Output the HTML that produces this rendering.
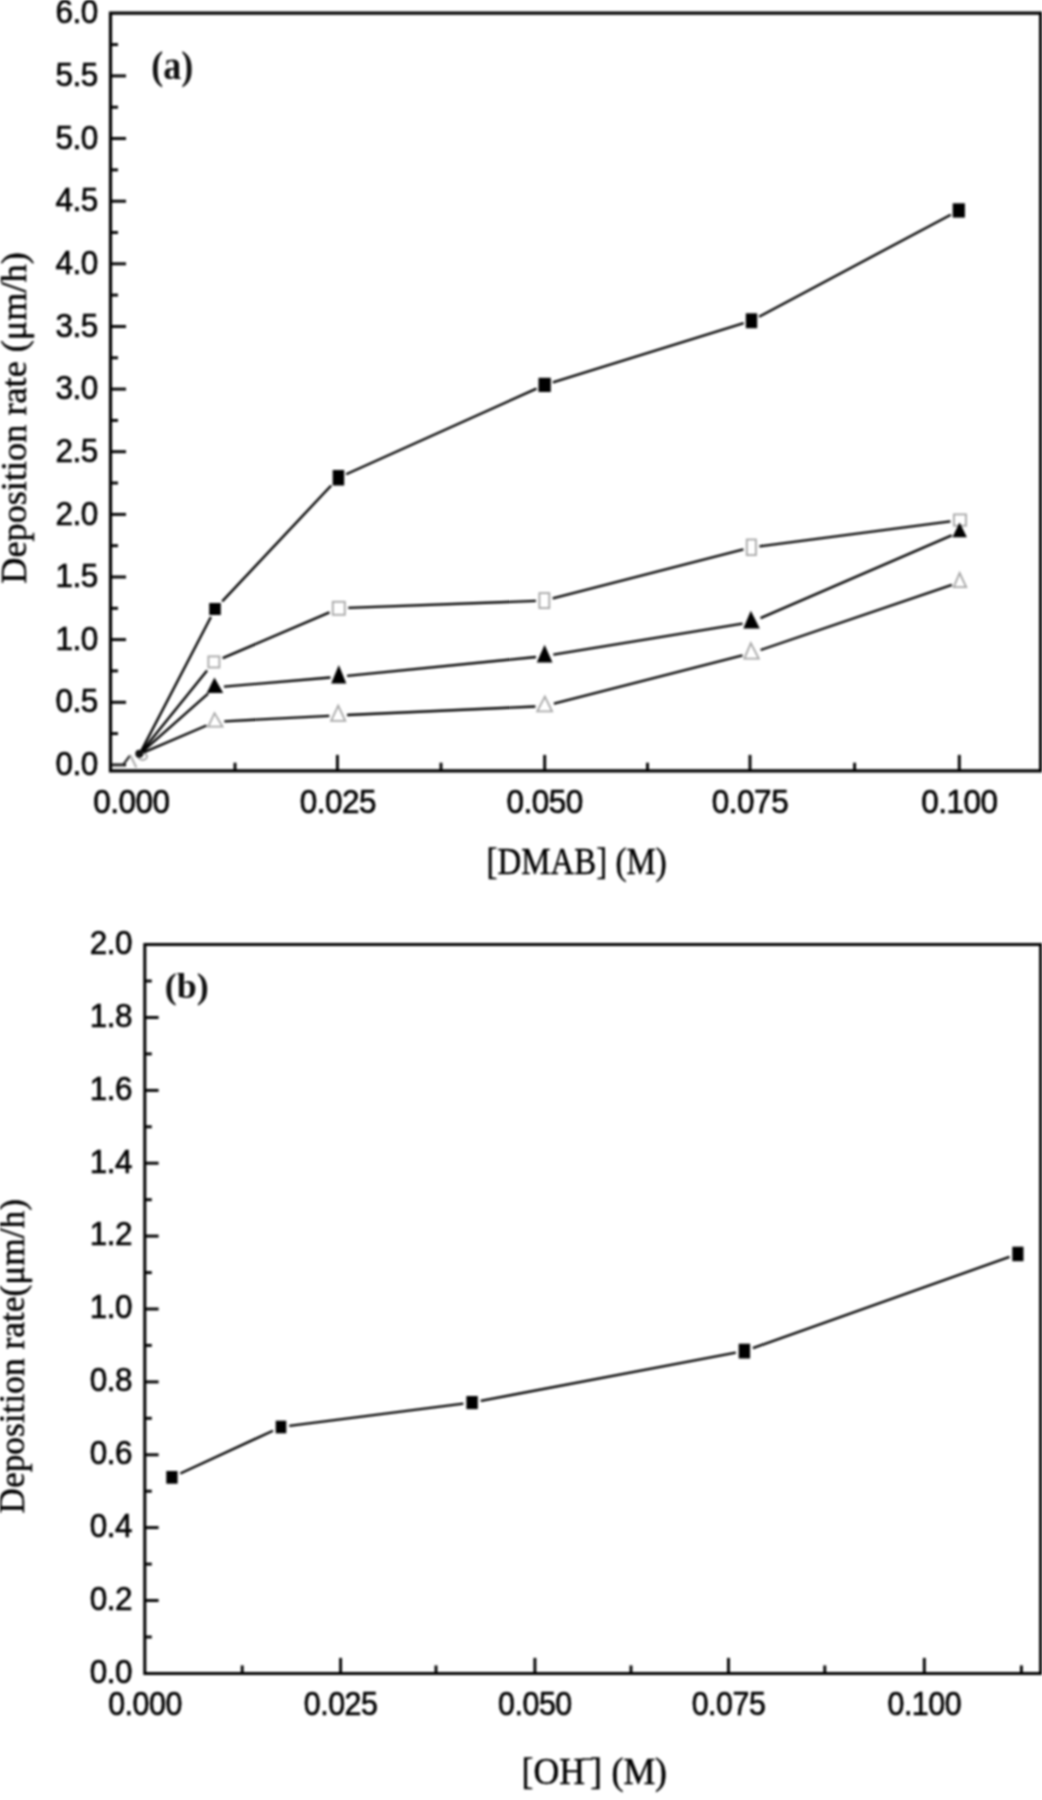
<!DOCTYPE html>
<html><head><meta charset="utf-8"><title>Deposition rate charts</title>
<style>
html,body{margin:0;padding:0;background:#fff;}
body{width:1042px;height:1800px;overflow:hidden;}
svg{display:block;filter:blur(0.85px);}
.tk{font-family:"Liberation Sans",sans-serif;font-size:31.5px;letter-spacing:-0.5px;fill:#000;stroke:#000;stroke-width:0.6px;}
.ttl{font-family:"Liberation Serif",serif;font-size:35px;fill:#000;stroke:#000;stroke-width:0.45px;}
.lbl{font-family:"Liberation Serif",serif;font-size:36px;font-weight:bold;fill:#111;}
</style></head>
<body>
<svg width="1042" height="1800" viewBox="0 0 1042 1800">
<rect width="1042" height="1800" fill="#fff"/>
<line x1="110.5" y1="764.9" x2="126.0" y2="764.9" stroke="#000" stroke-width="2.9"/>
<line x1="110.5" y1="733.6" x2="118.0" y2="733.6" stroke="#000" stroke-width="2.9"/>
<line x1="110.5" y1="702.3" x2="126.0" y2="702.3" stroke="#000" stroke-width="2.9"/>
<line x1="110.5" y1="670.9" x2="118.0" y2="670.9" stroke="#000" stroke-width="2.9"/>
<line x1="110.5" y1="639.6" x2="126.0" y2="639.6" stroke="#000" stroke-width="2.9"/>
<line x1="110.5" y1="608.3" x2="118.0" y2="608.3" stroke="#000" stroke-width="2.9"/>
<line x1="110.5" y1="577.0" x2="126.0" y2="577.0" stroke="#000" stroke-width="2.9"/>
<line x1="110.5" y1="545.7" x2="118.0" y2="545.7" stroke="#000" stroke-width="2.9"/>
<line x1="110.5" y1="514.4" x2="126.0" y2="514.4" stroke="#000" stroke-width="2.9"/>
<line x1="110.5" y1="483.0" x2="118.0" y2="483.0" stroke="#000" stroke-width="2.9"/>
<line x1="110.5" y1="451.7" x2="126.0" y2="451.7" stroke="#000" stroke-width="2.9"/>
<line x1="110.5" y1="420.4" x2="118.0" y2="420.4" stroke="#000" stroke-width="2.9"/>
<line x1="110.5" y1="389.1" x2="126.0" y2="389.1" stroke="#000" stroke-width="2.9"/>
<line x1="110.5" y1="357.8" x2="118.0" y2="357.8" stroke="#000" stroke-width="2.9"/>
<line x1="110.5" y1="326.5" x2="126.0" y2="326.5" stroke="#000" stroke-width="2.9"/>
<line x1="110.5" y1="295.1" x2="118.0" y2="295.1" stroke="#000" stroke-width="2.9"/>
<line x1="110.5" y1="263.8" x2="126.0" y2="263.8" stroke="#000" stroke-width="2.9"/>
<line x1="110.5" y1="232.5" x2="118.0" y2="232.5" stroke="#000" stroke-width="2.9"/>
<line x1="110.5" y1="201.2" x2="126.0" y2="201.2" stroke="#000" stroke-width="2.9"/>
<line x1="110.5" y1="169.9" x2="118.0" y2="169.9" stroke="#000" stroke-width="2.9"/>
<line x1="110.5" y1="138.5" x2="126.0" y2="138.5" stroke="#000" stroke-width="2.9"/>
<line x1="110.5" y1="107.2" x2="118.0" y2="107.2" stroke="#000" stroke-width="2.9"/>
<line x1="110.5" y1="75.9" x2="126.0" y2="75.9" stroke="#000" stroke-width="2.9"/>
<line x1="110.5" y1="44.6" x2="118.0" y2="44.6" stroke="#000" stroke-width="2.9"/>
<line x1="235.0" y1="770.9" x2="235.0" y2="762.7" stroke="#000" stroke-width="2.9"/>
<line x1="337.4" y1="770.9" x2="337.4" y2="754.9" stroke="#000" stroke-width="2.9"/>
<line x1="441.0" y1="770.9" x2="441.0" y2="762.7" stroke="#000" stroke-width="2.9"/>
<line x1="544.7" y1="770.9" x2="544.7" y2="754.9" stroke="#000" stroke-width="2.9"/>
<line x1="647.5" y1="770.9" x2="647.5" y2="762.7" stroke="#000" stroke-width="2.9"/>
<line x1="750.0" y1="770.9" x2="750.0" y2="754.9" stroke="#000" stroke-width="2.9"/>
<line x1="854.6" y1="770.9" x2="854.6" y2="762.7" stroke="#000" stroke-width="2.9"/>
<line x1="959.3" y1="770.9" x2="959.3" y2="754.9" stroke="#000" stroke-width="2.9"/>
<path d="M110.5 13.2H1040.6V770.9H110.5Z" fill="none" stroke="#000" stroke-width="3.2" stroke-linejoin="miter"/>
<g transform="translate(97.8 775.0) scale(1.0 1.045)"><text x="0" y="0" class="tk" text-anchor="end" >0.0</text></g>
<g transform="translate(97.8 712.4) scale(1.0 1.045)"><text x="0" y="0" class="tk" text-anchor="end" >0.5</text></g>
<g transform="translate(97.8 649.7) scale(1.0 1.045)"><text x="0" y="0" class="tk" text-anchor="end" >1.0</text></g>
<g transform="translate(97.8 587.1) scale(1.0 1.045)"><text x="0" y="0" class="tk" text-anchor="end" >1.5</text></g>
<g transform="translate(97.8 524.5) scale(1.0 1.045)"><text x="0" y="0" class="tk" text-anchor="end" >2.0</text></g>
<g transform="translate(97.8 461.8) scale(1.0 1.045)"><text x="0" y="0" class="tk" text-anchor="end" >2.5</text></g>
<g transform="translate(97.8 399.2) scale(1.0 1.045)"><text x="0" y="0" class="tk" text-anchor="end" >3.0</text></g>
<g transform="translate(97.8 336.6) scale(1.0 1.045)"><text x="0" y="0" class="tk" text-anchor="end" >3.5</text></g>
<g transform="translate(97.8 273.9) scale(1.0 1.045)"><text x="0" y="0" class="tk" text-anchor="end" >4.0</text></g>
<g transform="translate(97.8 211.3) scale(1.0 1.045)"><text x="0" y="0" class="tk" text-anchor="end" >4.5</text></g>
<g transform="translate(97.8 148.6) scale(1.0 1.045)"><text x="0" y="0" class="tk" text-anchor="end" >5.0</text></g>
<g transform="translate(97.8 86.0) scale(1.0 1.045)"><text x="0" y="0" class="tk" text-anchor="end" >5.5</text></g>
<g transform="translate(97.8 23.4) scale(1.0 1.045)"><text x="0" y="0" class="tk" text-anchor="end" >6.0</text></g>
<g transform="translate(131.3 812.8) scale(1.0 1.045)"><text x="0" y="0" class="tk" text-anchor="middle" >0.000</text></g>
<g transform="translate(337.8 812.8) scale(1.0 1.045)"><text x="0" y="0" class="tk" text-anchor="middle" >0.025</text></g>
<g transform="translate(544.7 812.8) scale(1.0 1.045)"><text x="0" y="0" class="tk" text-anchor="middle" >0.050</text></g>
<g transform="translate(750.0 812.8) scale(1.0 1.045)"><text x="0" y="0" class="tk" text-anchor="middle" >0.075</text></g>
<g transform="translate(959.3 812.8) scale(1.0 1.045)"><text x="0" y="0" class="tk" text-anchor="middle" >0.100</text></g>
<text transform="translate(25.9 418.0) rotate(-90)" class="ttl" text-anchor="middle" textLength="331.5" lengthAdjust="spacingAndGlyphs">Deposition rate (μm/h)</text>
<g transform="translate(576.6 873.8) scale(1.0 1.1)"><text x="0" y="0" class="ttl" text-anchor="middle" textLength="180" lengthAdjust="spacingAndGlyphs">[DMAB] (M)</text></g>
<g transform="translate(151.2 79.2) scale(1.0 1.1)"><text x="0" y="0" class="lbl" text-anchor="start" >(a)</text></g>
<line x1="140.5" y1="752.4" x2="210.9" y2="617.0" stroke="#000" stroke-width="2.35"/>
<line x1="222.2" y1="601.4" x2="331.2" y2="485.5" stroke="#000" stroke-width="2.35"/>
<line x1="346.2" y1="474.3" x2="536.5" y2="388.6" stroke="#000" stroke-width="2.35"/>
<line x1="552.9" y1="382.3" x2="743.7" y2="323.2" stroke="#000" stroke-width="2.35"/>
<line x1="759.1" y1="316.7" x2="950.8" y2="214.7" stroke="#000" stroke-width="2.35"/>
<line x1="140.9" y1="752.6" x2="207.1" y2="670.4" stroke="#000" stroke-width="2.35"/>
<line x1="222.7" y1="658.2" x2="329.5" y2="612.3" stroke="#000" stroke-width="2.35"/>
<line x1="348.3" y1="607.9" x2="535.9" y2="600.9" stroke="#000" stroke-width="2.35"/>
<line x1="552.7" y1="598.4" x2="743.4" y2="549.4" stroke="#000" stroke-width="2.35"/>
<line x1="759.4" y1="546.3" x2="950.4" y2="521.3" stroke="#000" stroke-width="2.35"/>
<line x1="141.1" y1="752.9" x2="208.1" y2="693.6" stroke="#000" stroke-width="2.35"/>
<line x1="224.0" y1="686.7" x2="330.4" y2="677.5" stroke="#000" stroke-width="2.35"/>
<line x1="347.1" y1="675.9" x2="536.0" y2="657.0" stroke="#000" stroke-width="2.35"/>
<line x1="553.3" y1="654.7" x2="742.5" y2="623.6" stroke="#000" stroke-width="2.35"/>
<line x1="760.5" y1="618.2" x2="951.7" y2="535.3" stroke="#000" stroke-width="2.35"/>
<line x1="141.4" y1="753.4" x2="206.5" y2="725.5" stroke="#000" stroke-width="2.35"/>
<line x1="224.3" y1="721.3" x2="329.3" y2="715.8" stroke="#000" stroke-width="2.35"/>
<line x1="347.1" y1="715.0" x2="535.4" y2="706.5" stroke="#000" stroke-width="2.35"/>
<line x1="553.9" y1="703.7" x2="742.5" y2="655.4" stroke="#000" stroke-width="2.35"/>
<line x1="760.6" y1="650.0" x2="951.9" y2="584.8" stroke="#000" stroke-width="2.35"/>
<path d="M112 765H123L130 755.5" fill="none" stroke="#2a2a2a" stroke-width="2.2" stroke-linejoin="round"/>
<path d="M130.2 755L136.3 767.5" fill="none" stroke="#b0b0b0" stroke-width="2.2"/>
<ellipse cx="142.6" cy="756.6" rx="4.4" ry="3.4" fill="none" stroke="#8a8a8a" stroke-width="1.4"/>
<circle cx="139.3" cy="753.8" r="4.0" fill="#111"/>
<rect x="209.2" y="603.0" width="11.6" height="12.0" fill="#000"/>
<rect x="332.7" y="470.0" width="11.5" height="15.5" fill="#000"/>
<rect x="538.5" y="377.8" width="12.3" height="14.2" fill="#000"/>
<rect x="745.8" y="313.3" width="11.4" height="14.9" fill="#000"/>
<rect x="952.7" y="203.3" width="12.2" height="14.3" fill="#000"/>
<rect x="208.4" y="656.4" width="11.0" height="11.1" fill="#fff" stroke="#a6a6a6" stroke-width="1.8"/>
<rect x="332.8" y="601.8" width="12.0" height="13.0" fill="#fff" stroke="#a6a6a6" stroke-width="1.8"/>
<rect x="539.4" y="593.1" width="9.9" height="15.0" fill="#fff" stroke="#a6a6a6" stroke-width="1.8"/>
<rect x="746.8" y="539.5" width="9.1" height="15.6" fill="#fff" stroke="#a6a6a6" stroke-width="1.8"/>
<rect x="953.9" y="514.4" width="12.1" height="11.3" fill="#fff" stroke="#a6a6a6" stroke-width="1.8"/>
<path d="M214.4 677.5L223.2 693.1H206.8Z" fill="#000"/>
<path d="M338.8 665.0L346.3 683.4H331.2Z" fill="#000"/>
<path d="M544.6 644.7L552.5 662.5H536.8Z" fill="#000"/>
<path d="M750.8 610.8L759.8 628.5H743.3Z" fill="#000"/>
<path d="M959.6 522.4L966.9 537.2H952.4Z" fill="#000"/>
<path d="M214.5 713.1L222.5 726.6H208.2Z" fill="#fff" stroke="#a6a6a6" stroke-width="1.8" stroke-linejoin="miter"/>
<path d="M338.2 705.7L345.3 720.8H331.1Z" fill="#fff" stroke="#a6a6a6" stroke-width="1.8" stroke-linejoin="miter"/>
<path d="M544.9 696.6L552.1 711.4H537.2Z" fill="#fff" stroke="#a6a6a6" stroke-width="1.8" stroke-linejoin="miter"/>
<path d="M750.8 643.1L758.8 658.7H744.3Z" fill="#fff" stroke="#a6a6a6" stroke-width="1.8" stroke-linejoin="miter"/>
<path d="M959.6 573.0L966.2 587.2H953.7Z" fill="#fff" stroke="#a6a6a6" stroke-width="1.8" stroke-linejoin="miter"/>
<line x1="144.8" y1="1637.0" x2="151.8" y2="1637.0" stroke="#000" stroke-width="2.9"/>
<line x1="144.8" y1="1600.5" x2="158.6" y2="1600.5" stroke="#000" stroke-width="2.9"/>
<line x1="144.8" y1="1564.1" x2="151.8" y2="1564.1" stroke="#000" stroke-width="2.9"/>
<line x1="144.8" y1="1527.6" x2="158.6" y2="1527.6" stroke="#000" stroke-width="2.9"/>
<line x1="144.8" y1="1491.2" x2="151.8" y2="1491.2" stroke="#000" stroke-width="2.9"/>
<line x1="144.8" y1="1454.8" x2="158.6" y2="1454.8" stroke="#000" stroke-width="2.9"/>
<line x1="144.8" y1="1418.3" x2="151.8" y2="1418.3" stroke="#000" stroke-width="2.9"/>
<line x1="144.8" y1="1381.9" x2="158.6" y2="1381.9" stroke="#000" stroke-width="2.9"/>
<line x1="144.8" y1="1345.4" x2="151.8" y2="1345.4" stroke="#000" stroke-width="2.9"/>
<line x1="144.8" y1="1309.0" x2="158.6" y2="1309.0" stroke="#000" stroke-width="2.9"/>
<line x1="144.8" y1="1272.6" x2="151.8" y2="1272.6" stroke="#000" stroke-width="2.9"/>
<line x1="144.8" y1="1236.1" x2="158.6" y2="1236.1" stroke="#000" stroke-width="2.9"/>
<line x1="144.8" y1="1199.7" x2="151.8" y2="1199.7" stroke="#000" stroke-width="2.9"/>
<line x1="144.8" y1="1163.2" x2="158.6" y2="1163.2" stroke="#000" stroke-width="2.9"/>
<line x1="144.8" y1="1126.8" x2="151.8" y2="1126.8" stroke="#000" stroke-width="2.9"/>
<line x1="144.8" y1="1090.4" x2="158.6" y2="1090.4" stroke="#000" stroke-width="2.9"/>
<line x1="144.8" y1="1053.9" x2="151.8" y2="1053.9" stroke="#000" stroke-width="2.9"/>
<line x1="144.8" y1="1017.5" x2="158.6" y2="1017.5" stroke="#000" stroke-width="2.9"/>
<line x1="144.8" y1="981.0" x2="151.8" y2="981.0" stroke="#000" stroke-width="2.9"/>
<line x1="242.2" y1="1673.4" x2="242.2" y2="1665.4" stroke="#000" stroke-width="2.9"/>
<line x1="340.6" y1="1673.4" x2="340.6" y2="1657.9" stroke="#000" stroke-width="2.9"/>
<line x1="436.0" y1="1673.4" x2="436.0" y2="1665.4" stroke="#000" stroke-width="2.9"/>
<line x1="534.9" y1="1673.4" x2="534.9" y2="1657.9" stroke="#000" stroke-width="2.9"/>
<line x1="631.0" y1="1673.4" x2="631.0" y2="1665.4" stroke="#000" stroke-width="2.9"/>
<line x1="728.5" y1="1673.4" x2="728.5" y2="1657.9" stroke="#000" stroke-width="2.9"/>
<line x1="824.8" y1="1673.4" x2="824.8" y2="1665.4" stroke="#000" stroke-width="2.9"/>
<line x1="924.3" y1="1673.4" x2="924.3" y2="1657.9" stroke="#000" stroke-width="2.9"/>
<line x1="1021.4" y1="1673.4" x2="1021.4" y2="1665.4" stroke="#000" stroke-width="2.9"/>
<path d="M144.8 944.6H1040.6V1673.4H144.8Z" fill="none" stroke="#000" stroke-width="3.0" stroke-linejoin="miter"/>
<g transform="translate(132.0 1682.7) scale(1.0 1.045)"><text x="0" y="0" class="tk" text-anchor="end" >0.0</text></g>
<g transform="translate(132.0 1609.8) scale(1.0 1.045)"><text x="0" y="0" class="tk" text-anchor="end" >0.2</text></g>
<g transform="translate(132.0 1536.9) scale(1.0 1.045)"><text x="0" y="0" class="tk" text-anchor="end" >0.4</text></g>
<g transform="translate(132.0 1464.1) scale(1.0 1.045)"><text x="0" y="0" class="tk" text-anchor="end" >0.6</text></g>
<g transform="translate(132.0 1391.2) scale(1.0 1.045)"><text x="0" y="0" class="tk" text-anchor="end" >0.8</text></g>
<g transform="translate(132.0 1318.3) scale(1.0 1.045)"><text x="0" y="0" class="tk" text-anchor="end" >1.0</text></g>
<g transform="translate(132.0 1245.4) scale(1.0 1.045)"><text x="0" y="0" class="tk" text-anchor="end" >1.2</text></g>
<g transform="translate(132.0 1172.5) scale(1.0 1.045)"><text x="0" y="0" class="tk" text-anchor="end" >1.4</text></g>
<g transform="translate(132.0 1099.7) scale(1.0 1.045)"><text x="0" y="0" class="tk" text-anchor="end" >1.6</text></g>
<g transform="translate(132.0 1026.8) scale(1.0 1.045)"><text x="0" y="0" class="tk" text-anchor="end" >1.8</text></g>
<g transform="translate(132.0 953.9) scale(1.0 1.045)"><text x="0" y="0" class="tk" text-anchor="end" >2.0</text></g>
<g transform="translate(145.0 1714.8) scale(0.965 1.045)"><text x="0" y="0" class="tk" text-anchor="middle" >0.000</text></g>
<g transform="translate(340.6 1714.8) scale(0.965 1.045)"><text x="0" y="0" class="tk" text-anchor="middle" >0.025</text></g>
<g transform="translate(534.9 1714.8) scale(0.965 1.045)"><text x="0" y="0" class="tk" text-anchor="middle" >0.050</text></g>
<g transform="translate(728.5 1714.8) scale(0.965 1.045)"><text x="0" y="0" class="tk" text-anchor="middle" >0.075</text></g>
<g transform="translate(924.3 1714.8) scale(0.965 1.045)"><text x="0" y="0" class="tk" text-anchor="middle" >0.100</text></g>
<text transform="translate(23.5 1356.3) rotate(-90)" class="ttl" text-anchor="middle" textLength="314.5" lengthAdjust="spacingAndGlyphs">Deposition rate(μm/h)</text>
<g transform="translate(521.5 1784.0) scale(1.0 1.1)"><text x="0" y="0" class="ttl" text-anchor="start" textLength="63.5" lengthAdjust="spacingAndGlyphs">[OH</text></g>
<g transform="translate(590.2 1784.0) scale(1.0 1.1)"><text x="0" y="0" class="ttl" text-anchor="start" >]</text></g>
<g transform="translate(611.5 1784.0) scale(1.0 1.1)"><text x="0" y="0" class="ttl" text-anchor="start" textLength="55.5" lengthAdjust="spacingAndGlyphs">(M)</text></g>
<line x1="582" y1="1759.2" x2="593" y2="1759.2" stroke="#111" stroke-width="1.8"/>
<g transform="translate(164.8 997.8) scale(1.0 0.985)"><text x="0" y="0" class="lbl" text-anchor="start" font-size="35">(b)</text></g>
<line x1="180.3" y1="1473.5" x2="273.0" y2="1430.7" stroke="#000" stroke-width="2.35"/>
<line x1="289.3" y1="1425.9" x2="463.4" y2="1403.7" stroke="#000" stroke-width="2.35"/>
<line x1="480.7" y1="1400.9" x2="735.8" y2="1352.7" stroke="#000" stroke-width="2.35"/>
<line x1="752.9" y1="1348.1" x2="1009.5" y2="1256.9" stroke="#000" stroke-width="2.35"/>
<rect x="166.3" y="1471.0" width="11.3" height="12.7" fill="#000"/>
<rect x="275.7" y="1420.7" width="10.6" height="12.6" fill="#000"/>
<rect x="466.4" y="1396.0" width="11.4" height="13.1" fill="#000"/>
<rect x="738.7" y="1343.7" width="11.4" height="14.8" fill="#000"/>
<rect x="1012.3" y="1246.7" width="11.2" height="14.5" fill="#000"/>
</svg>
</body></html>
